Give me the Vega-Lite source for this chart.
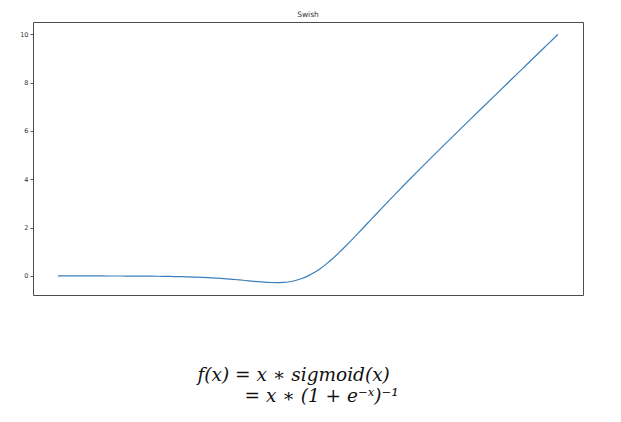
{
  "$schema": "https://vega.github.io/schema/vega-lite/v6.json",
  "width": 550,
  "height": 273,
  "autosize": {"type": "none"},
  "padding": {"left": 33, "top": 22, "right": 38, "bottom": 127},
  "background": "white",
  "config": {
    "view": {"stroke": "#4d4d4d", "strokeWidth": 1},
    "axis": {"grid": false, "domain": false}
  },
  "title": {"text": "Swish", "fontSize": 7.5, "font": "DejaVu Sans", "fontWeight": "normal", "color": "#333", "offset": 4, "anchor": "middle"},
  "data": {"values": [
    {"x": -10, "y": -0.000454}, {"x": -9.5, "y": -0.000711}, {"x": -9, "y": -0.00111},
    {"x": -8.5, "y": -0.00173}, {"x": -8, "y": -0.00268}, {"x": -7.5, "y": -0.00415},
    {"x": -7, "y": -0.00638}, {"x": -6.5, "y": -0.00976}, {"x": -6, "y": -0.01484},
    {"x": -5.5, "y": -0.02239}, {"x": -5, "y": -0.03346}, {"x": -4.5, "y": -0.04945},
    {"x": -4, "y": -0.07194}, {"x": -3.5, "y": -0.10259}, {"x": -3, "y": -0.14228},
    {"x": -2.75, "y": -0.16524}, {"x": -2.5, "y": -0.18965}, {"x": -2.25, "y": -0.21453},
    {"x": -2, "y": -0.23841}, {"x": -1.75, "y": -0.25909}, {"x": -1.5, "y": -0.27364},
    {"x": -1.25, "y": -0.27838}, {"x": -1, "y": -0.26894}, {"x": -0.75, "y": -0.24061},
    {"x": -0.5, "y": -0.18877}, {"x": -0.25, "y": -0.10946}, {"x": 0, "y": 0},
    {"x": 0.25, "y": 0.14054}, {"x": 0.5, "y": 0.31123}, {"x": 0.75, "y": 0.50939},
    {"x": 1, "y": 0.73106}, {"x": 1.25, "y": 0.97162}, {"x": 1.5, "y": 1.22636},
    {"x": 1.75, "y": 1.49091}, {"x": 2, "y": 1.76159}, {"x": 2.25, "y": 2.03546},
    {"x": 2.5, "y": 2.31035}, {"x": 2.75, "y": 2.58475}, {"x": 3, "y": 2.85772},
    {"x": 3.5, "y": 3.39741}, {"x": 4, "y": 3.92806}, {"x": 4.5, "y": 4.45055},
    {"x": 5, "y": 4.96654}, {"x": 5.5, "y": 5.47761}, {"x": 6, "y": 5.98516},
    {"x": 6.5, "y": 6.49024}, {"x": 7, "y": 6.99362}, {"x": 7.5, "y": 7.49585},
    {"x": 8, "y": 7.99732}, {"x": 8.5, "y": 8.49827}, {"x": 9, "y": 8.99889},
    {"x": 9.5, "y": 9.49929}, {"x": 10, "y": 9.99955}
  ]},
  "mark": {"type": "line", "color": "#3a7fba", "strokeWidth": 1.2, "interpolate": "monotone"},
  "encoding": {
    "x": {
      "field": "x", "type": "quantitative",
      "scale": {"domain": [-11, 11], "nice": false, "zero": false},
      "axis": {
        "labels": false, "ticks": false,
        "title": ["f(x) = x ∗ sigmoid(x)", "\u200b\u00a0\u00a0\u00a0\u00a0\u00a0\u00a0\u00a0\u00a0= x ∗ (1 +  e⁻ˣ)⁻¹"],
        "titleFont": "DejaVu Serif", "titleFontStyle": "italic", "titleFontWeight": "normal",
        "titleFontSize": 18.5, "titleColor": "#111", "titleAlign": "left", "titleX": 164,
        "titlePadding": 70, "titleLineHeight": 21
      }
    },
    "y": {
      "field": "y", "type": "quantitative",
      "scale": {"domain": [-0.79, 10.51], "nice": false, "zero": false},
      "axis": {
        "values": [0, 2, 4, 6, 8, 10], "title": null,
        "labelFontSize": 6.5, "labelFont": "DejaVu Sans", "labelColor": "#333",
        "tickSize": 3, "tickColor": "#555", "labelPadding": 2
      }
    }
  }
}
